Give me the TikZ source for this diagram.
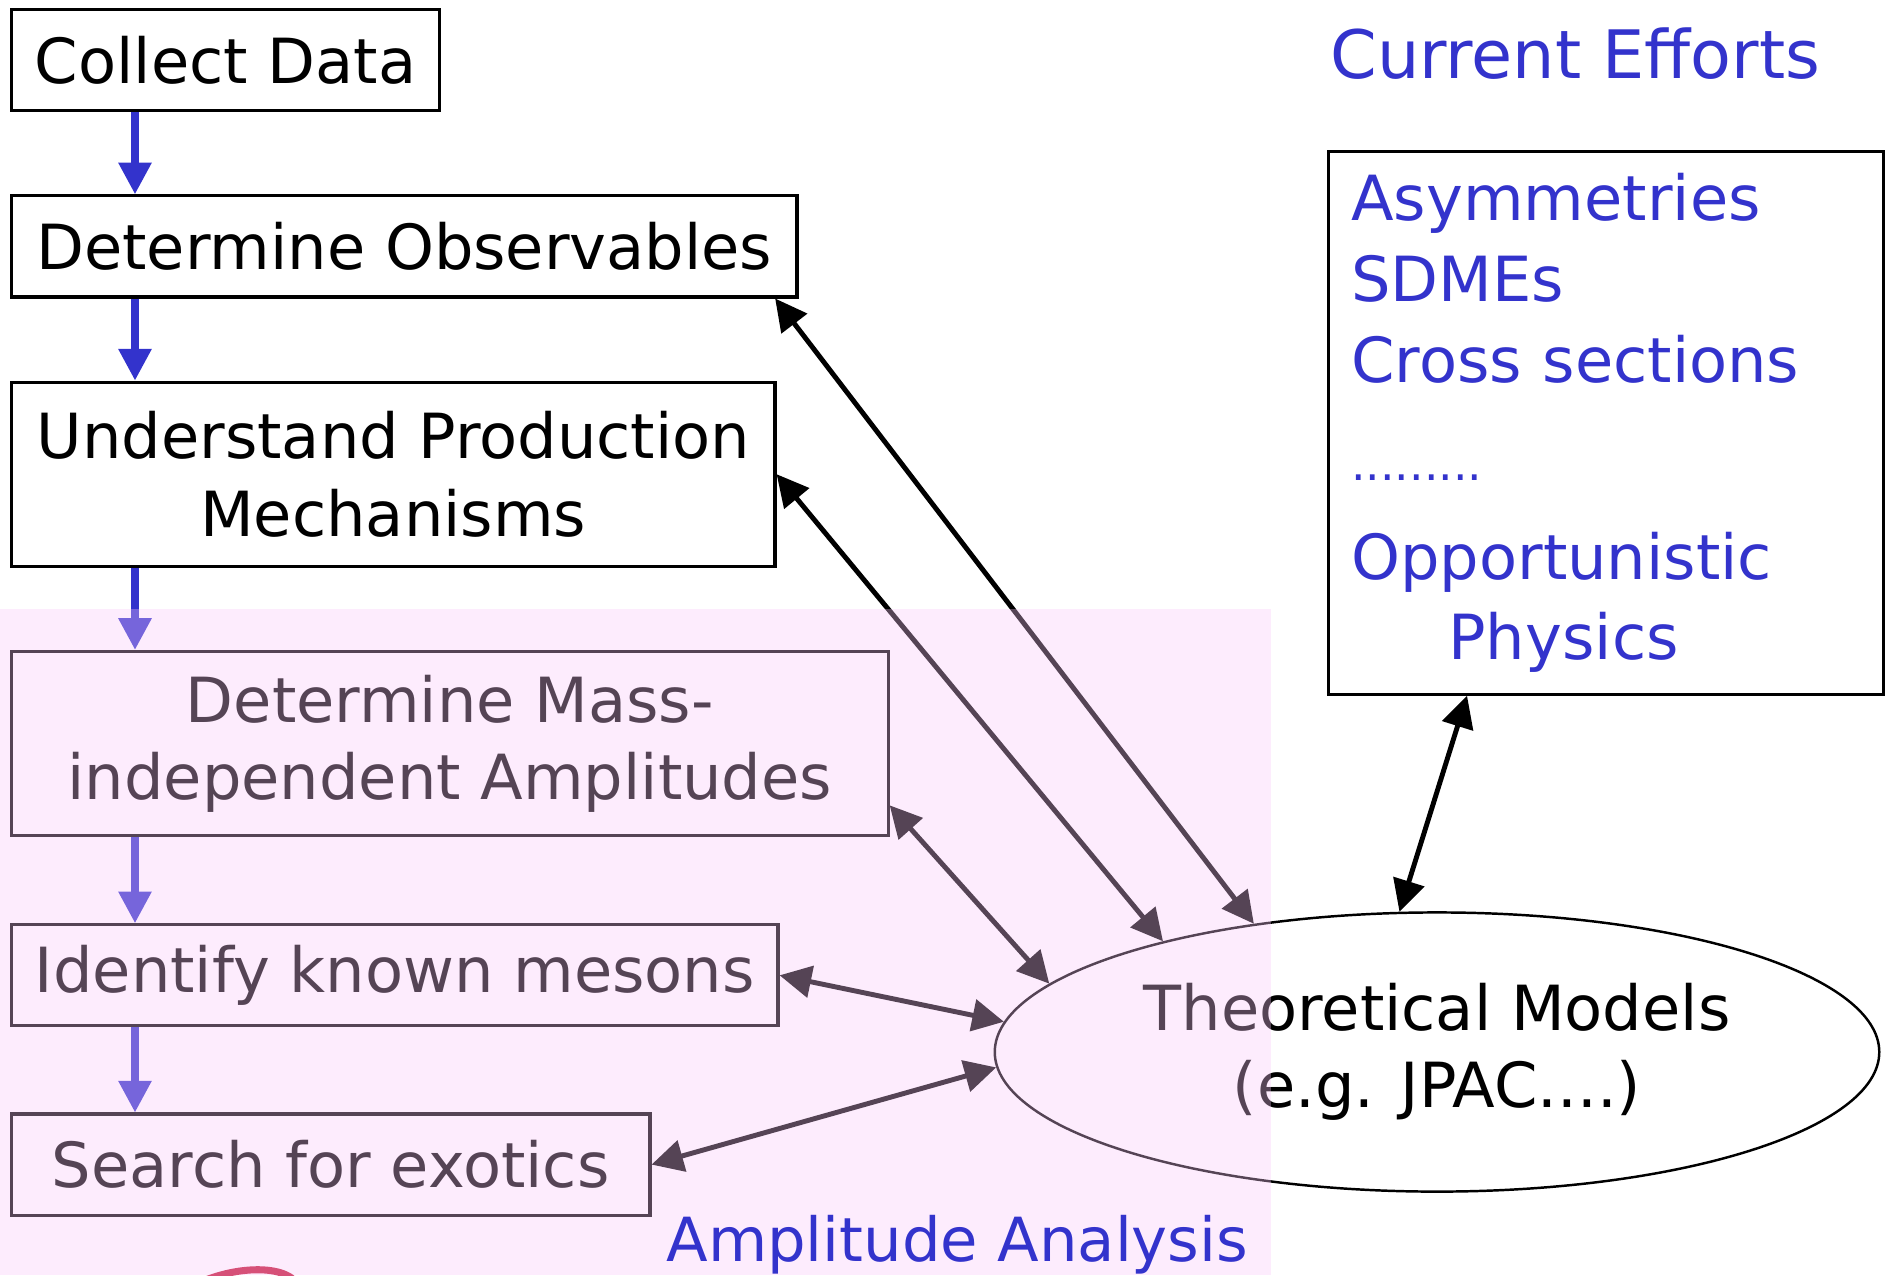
\documentclass[tikz,border=0pt]{standalone}
\usepackage{fontspec}
\setsansfont{DejaVu Sans}
\usetikzlibrary{arrows.meta,calc,positioning,shapes.geometric}
\definecolor{effblue}{RGB}{51,51,204}
\definecolor{veil}{RGB}{250,200,250}
\definecolor{scribble}{RGB}{214,80,120}

\begin{document}
\begin{tikzpicture}[
    x=0.01cm, y=-0.01cm,
    >={Triangle[length=9pt,width=9pt]},
    font=\sffamily\fontsize{17.7}{22}\selectfont,
    stepbox/.style={
      draw,
      line width=0.9pt,
      minimum height=1.01cm,
      align=center,
      inner sep=0pt,
      anchor=north west,
    },
    flow/.style={->, line width=2pt, effblue},
    link/.style={<->, line width=1.4pt},
    lbl/.style={text=effblue},
  ]
  \useasboundingbox (0,0) rectangle (1892,1275);

  \node[stepbox, minimum width=4.28cm] (cd) at (10,8) {Collect Data};
  \node[stepbox, minimum width=7.85cm, below=8.2mm of cd.south west, anchor=north west] (dob) {Determine Observables};
  \node[stepbox, minimum width=7.63cm, minimum height=1.84cm, below=8.2mm of dob.south west, anchor=north west] (upm) {Understand Production\\Mechanisms};
  \node[stepbox, minimum width=8.76cm, minimum height=1.84cm, below=8.2mm of upm.south west, anchor=north west] (dmi) {Determine Mass-\\independent Amplitudes};
  \node[stepbox, minimum width=7.66cm, below=8.6mm of dmi.south west, anchor=north west] (ikm) {Identify known mesons};
  \node[stepbox, minimum width=6.38cm, below=8.5mm of ikm.south west, anchor=north west] (sfe) {Search for exotics};

  \node[ellipse, draw, line width=0.7pt, minimum width=8.84cm, minimum height=2.79cm, align=center] (tm) at (1437,1052) {Theoretical Models\\(e.g. JPAC....)};

  \node[lbl, anchor=base west, font=\sffamily\fontsize{19}{22}\selectfont] (cur) at (1318,78) {Current Efforts};
  \node[draw, line width=0.9pt, lbl, minimum width=5.55cm, minimum height=5.42cm, text width=5.09cm, inner xsep=0.23cm, align=left, font=\sffamily\fontsize{17.7}{23}\selectfont] (ce) at (1606,423)
    {Asymmetries\\SDMEs\\Cross sections\\[5pt]{\fontsize{13}{12}\selectfont .........}\\[5pt]Opportunistic\\\hspace*{0.97cm}Physics};

  \coordinate (col) at (135,0);
  \draw[flow] (cd.south -| col) -- (dob.north -| col);
  \draw[flow] (dob.south -| col) -- (upm.north -| col);
  \draw[flow] (upm.south -| col) -- (dmi.north -| col);
  \draw[flow] (dmi.south -| col) -- (ikm.north -| col);
  \draw[flow] (ikm.south -| col) -- (sfe.north -| col);

  \draw[link] (dob.-8.5) -- (tm.145);
  \draw[link] (upm.east) -- (tm.158.4);
  \draw[link] (dmi.-8.5) -- (tm.170);
  \draw[link] (ikm.east) -- (tm.176);
  \draw[link] (sfe.east) -- (tm.-178);
  \draw[link] (ce.-117.5) -- (tm.105.4);

  \fill[veil, opacity=0.34] (0,609) rectangle (1271,1275);
  \node[lbl, anchor=base west, font=\sffamily\fontsize{17.3}{22}\selectfont] (amp) at (654,1261) {Amplitude Analysis};
  \draw[scribble, line width=2pt] (185,1290) .. controls (225,1266) and (285,1262) .. (298,1285);
\end{tikzpicture}
\end{document}
